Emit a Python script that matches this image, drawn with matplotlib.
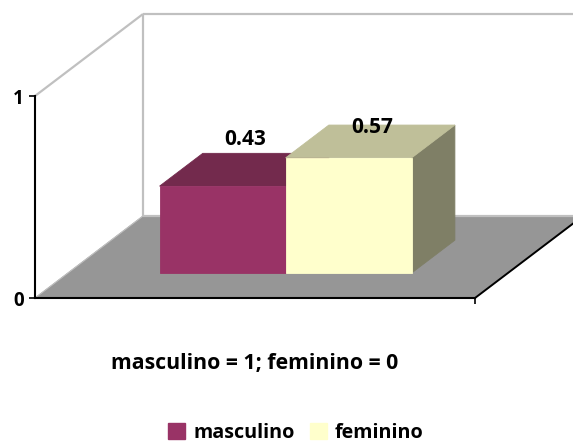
import matplotlib
matplotlib.use("Agg")
import matplotlib.pyplot as plt
from matplotlib.patches import Polygon, Patch

categories = ["masculino", "feminino"]
values = [0.43, 0.57]
value_labels = ["0.43", "0.57"]
y_ticks = [0, 1]
x_title = "masculino = 1; feminino = 0"

front_colors = ["#993366", "#FFFFCC"]
top_colors = ["#732A4D", "#BFBF99"]
side_colors = ["#732A4D", "#7F7F66"]

W, H = 573, 443
plt.rcParams["font.family"] = "Open Sans"
plt.rcParams["font.weight"] = "bold"

fig = plt.figure(figsize=(W / 100, H / 100), dpi=100, facecolor="white")
ax = fig.add_axes([35 / W, (H - 298) / H, 440 / W, 202 / H])
ax.set_xlim(0, 2)
ax.set_ylim(0, 1)
ax.patch.set_visible(False)

DX, DY = 108 / 220, 82 / 202   # oblique shift of the full floor depth, in data units
BAR_W = 0.573
D0, D1 = 0.305, 0.705


def proj(x, v, d=0.0):
    return (x + d * DX, v + d * DY)


def poly(points, color, z, edge=None):
    ax.add_patch(Polygon(points, closed=True, facecolor=color, edgecolor=edge or color,
                         linewidth=0.6, zorder=z, clip_on=False))


# floor
poly([proj(0, 0), proj(2, 0), proj(2, 0, 1), proj(0, 0, 1)], "#969696", 1)
# walls
grid = dict(color="#C0C0C0", lw=1.6, zorder=2, clip_on=False, solid_capstyle="butt")
ax.plot(*zip(proj(0, 0, 1), proj(0, 1, 1)), **grid)
ax.plot(*zip(proj(0, 1), proj(0, 1, 1)), **grid)
ax.plot(*zip(proj(0, 1, 1), proj(2, 1, 1)), **grid)
ax.plot(*zip(proj(0, 0, 1), proj(2, 0, 1)), **grid)
ax.plot(*zip(proj(0, 0), proj(0, 0, 1)), color="#C0C0C0", lw=0.8, zorder=2, clip_on=False)
ax.plot(*zip(proj(2, 0), proj(2, 0, 1)), color="black", lw=1.4, zorder=3, clip_on=False)

# bars
x0 = 1 - BAR_W - 0.0105
for i, (v, f, t, s) in enumerate(zip(values, front_colors, top_colors, side_colors)):
    xl = x0 + i * BAR_W
    xr = xl + BAR_W
    z = 4 + i
    poly([proj(xr, 0, D0), proj(xr, 0, D1), proj(xr, v, D1), proj(xr, v, D0)], s, z)
    poly([proj(xl, v, D0), proj(xr, v, D0), proj(xr, v, D1), proj(xl, v, D1)], t, z)
    poly([proj(xl, 0, D0), proj(xr, 0, D0), proj(xr, v, D0), proj(xl, v, D0)], f, z)

# value labels
label_shift = [(-21, 14), (-20, -2)]
for i, (v, lab) in enumerate(zip(values, value_labels)):
    xc = x0 + i * BAR_W + BAR_W / 2
    ax.annotate(lab, proj(xc, v, D1), xytext=label_shift[i], textcoords="offset pixels",
                ha="center", va="center", fontsize=15, fontweight="bold", color="black",
                zorder=10, annotation_clip=False)

# axes
for name in ("top", "right"):
    ax.spines[name].set_visible(False)
for name in ("left", "bottom"):
    ax.spines[name].set_linewidth(1.5)
    ax.spines[name].set_zorder(8)
ax.set_yticks(y_ticks)
ax.set_yticklabels([str(t) for t in y_ticks], fontsize=13.5, fontweight="bold")
ax.set_xticks([2])
ax.set_xticklabels([""])
ax.tick_params(axis="both", length=4, width=1.2, pad=4)

fig.text(255 / W, 1 - 363 / H, x_title, ha="center", va="center", fontsize=15.3, fontweight="bold")

handles = [Patch(facecolor=c, edgecolor=c, label=n) for c, n in zip(front_colors, categories)]
fig.legend(handles=handles, loc="center", bbox_to_anchor=(296 / W, 1 - 433 / H), ncols=2,
           frameon=False, fontsize=14.2, handlelength=0.85, handleheight=0.85,
           handletextpad=0.4, columnspacing=0.8, borderpad=0, borderaxespad=0)

fig.savefig("out.png", dpi=100, facecolor="white")
